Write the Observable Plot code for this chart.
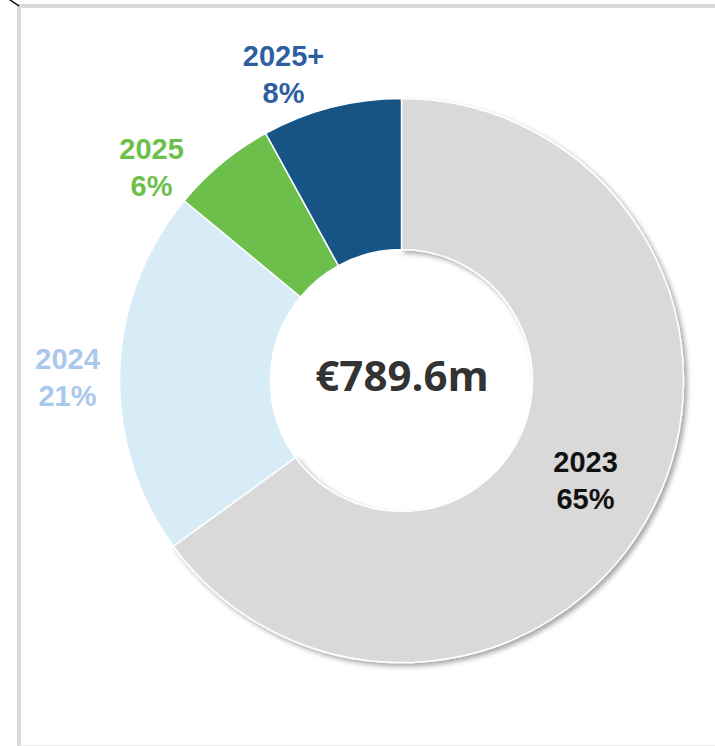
<!DOCTYPE html>
<html>
<head>
<meta charset="utf-8">
<script src="https://cdn.jsdelivr.net/npm/d3@7"></script>
<script src="https://cdn.jsdelivr.net/npm/@observablehq/plot@0.6"></script>
<style>
  html, body { margin: 0; padding: 0; background: #fff; }
  #wrap { position: relative; width: 715px; height: 746px; overflow: hidden; }
  #wrap svg.plot { position: absolute; left: 0; top: 0; }
  .frameL { position: absolute; left: 17px; top: 4px; width: 4px; height: 742px; background: #dadada; }
  .frameT { position: absolute; left: 17px; top: 4px; width: 698px; height: 4px; background: #dadada; }
  .frameB { position: absolute; left: 21px; top: 745px; width: 694px; height: 1px; background: #ececec; }
  .corner { position: absolute; left: 0; top: 0; }
</style>
</head>
<body>
<div id="wrap">
  <div class="frameL"></div><div class="frameT"></div><div class="frameB"></div>
  <svg class="corner" width="24" height="10"><line x1="10" y1="0" x2="19" y2="6" stroke="#000" stroke-width="1.5"/></svg>
</div>
<script>
// ---- data ----
const categories = ["2023", "2024", "2025", "2025+"];
const shares = [65, 21, 6, 8];            // percent of total
const totalLabel = "€789.6m";

// ---- styling / layout (not data) ----
const sliceColors = {"2023": "#d9d9d9", "2024": "#d8ecf8", "2025": "#6dbf4b", "2025+": "#175486"};
const labelColors = {"2023": "#111111", "2024": "#a9c8ec", "2025": "#6dbf4b", "2025+": "#2e5f9f"};
const labelPos = {"2023": [585, 478], "2024": [67, 375], "2025": [151, 165], "2025+": [283, 72]};
const W = 715, H = 746;
const cx = 401.5, cy = 380.5, rOuter = 282, rInner = 131;

const rows = categories.map((c, i) => ({category: c, share: shares[i]}));
const arcs = d3.pie().sort(null).value(d => d.share)(rows);

const donut = (index, scales) => {
  const g = d3.create("svg:g");
  const defs = g.append("defs");
  const f = defs.append("filter").attr("id", "shadow").attr("x", "-20%").attr("y", "-20%").attr("width", "140%").attr("height", "140%");
  f.append("feDropShadow").attr("dx", 3).attr("dy", 3).attr("stdDeviation", 2.5).attr("flood-color", "#000").attr("flood-opacity", 0.35);
  const arc = d3.arc().innerRadius(rInner).outerRadius(rOuter);
  const gg = g.append("g").attr("transform", `translate(${scales.x(cx)},${scales.y(cy)})`);
  gg.selectAll("path")
    .data(arcs)
    .join("path")
    .attr("d", arc)
    .attr("fill", d => sliceColors[d.data.category])
    .attr("stroke", "#fff")
    .attr("stroke-width", 1.5)
    .attr("filter", d => d.data.category === "2023" ? "url(#shadow)" : null);
  return g.node();
};

const labels = rows.map(r => ({
  text: `${r.category}\n${r.share}%`,
  category: r.category,
  x: labelPos[r.category][0],
  y: labelPos[r.category][1]
}));

const chart = Plot.plot({
  width: W,
  height: H,
  margin: 0,
  x: {domain: [0, W], range: [0, W], axis: null},
  y: {domain: [0, H], range: [0, H], axis: null},
  style: {background: "transparent"},
  marks: [
    donut,
    Plot.text(labels, {
      x: "x", y: "y", text: "text",
      fill: d => labelColors[d.category],
      fontSize: 29, fontWeight: "bold", fontFamily: "Liberation Sans, Arial, sans-serif",
      lineHeight: 1.3, lineAnchor: "middle", textAnchor: "middle"
    }),
    Plot.text([totalLabel], {
      x: () => cx, y: () => cy - 3, text: d => d,
      fill: "#333333", fontSize: 42, fontWeight: "bold", fontFamily: "Open Sans, sans-serif",
      textAnchor: "middle", lineAnchor: "middle"
    })
  ]
});
chart.classList.add("plot");
document.getElementById("wrap").prepend(chart);
</script>
</body>
</html>
